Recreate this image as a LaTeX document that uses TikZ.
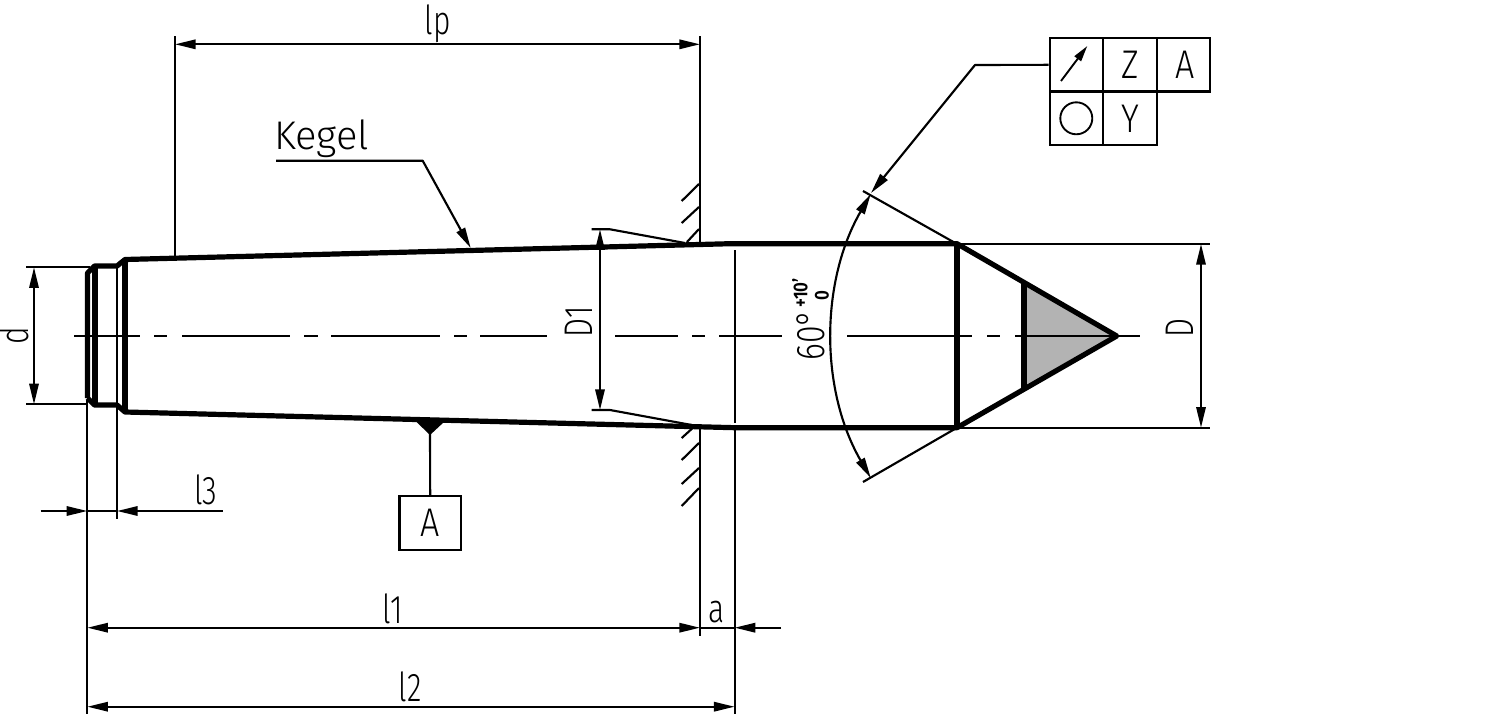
\documentclass[tikz,border=0pt]{standalone}
\usepackage{fontspec}
\usepackage{graphicx}
\setmainfont{Fira Sans Light}
\usetikzlibrary{arrows.meta}
\newcommand{\nrw}[2]{\scalebox{#1}[1]{#2}}
\tikzset{
  thinl/.style={line width=1.6pt,line cap=butt},
  thickl/.style={line width=3.9pt,line join=round},
  dim/.style={thinl,{Triangle[length=15.5pt,width=7pt]}-{Triangle[length=15.5pt,width=7pt]}},
  tipend/.style={thinl,-{Triangle[length=15.5pt,width=7pt]}},
  axisl/.style={line width=1.4pt},
  lbl/.style={inner sep=0pt,outer sep=0pt,font=\fontsize{30}{30}\selectfont},
  cellb/.style={draw,line width=1.7pt,minimum width=40pt,minimum height=40pt,inner sep=0pt,anchor=center,font=\fontsize{30}{30}\selectfont},
}
\begin{document}
\begin{tikzpicture}[x=0.75pt,y=-0.75pt]
\useasboundingbox[fill=white] (0,0) rectangle (1500,718);
% centre line
\foreach \a/\b in {74/140,154/167,182/290,304/317.5,331/440,454/467,480/546.5,615/678,692/705,719/782,847/972,987/1000,1015/1140}
  \draw[axisl] (\a,336) -- (\b,336);
% cone tip
\fill[fill={rgb,255:red,179;green,179;blue,179}] (1024,283) -- (1116.7,336) -- (1024,388) -- cycle;
\draw[axisl] (1024,336) -- (1116,336);
% thick outline
\draw[thickl] (87.5,398) -- (87.5,273) -- (94.5,266) -- (117,266) -- (125,259.5) -- (730,243.7) -- (957,243.7) -- (1116.7,336) -- (957,427.7) -- (735,427.7) -- (125,412) -- (117,405) -- (94.5,405) -- (87.5,398);
\draw[thickl] (95,266) -- (95,405);
\draw[thickl] (125,259.5) -- (125,412);
\draw[thickl] (957,243.7) -- (957,427.7);
\draw[thickl] (1024,283) -- (1024,388);
\draw[line width=2.2pt] (117,266) -- (117,405);
% extension lines
\draw[thinl] (26,267.3) -- (90,267.3);
\draw[thinl] (26,404.3) -- (88,404.3);
\draw[thinl] (87.3,400) -- (87.3,714);
\draw[thinl] (117,405) -- (117,519);
\draw[thinl] (175,36) -- (175,259);
\draw[thinl] (700,36) -- (700,243);
\draw[thinl] (700,428) -- (700,636);
\draw[thinl] (734.6,250) -- (734.6,423);
\draw[thinl] (734.6,430) -- (734.6,714);
\draw[thinl] (957,244) -- (1210,244);
\draw[thinl] (957,427.7) -- (1210,427.7);
\draw[thinl] (957,244) -- (863,191);
\draw[thinl] (957,427.7) -- (863,482);
% hatching
\foreach \p/\q in {{681.7,201}/{699,184},{681.7,223}/{699,207},{687,242}/{699,229},{681.7,438}/{692.7,428},{681.7,460}/{699,443},{681.7,484}/{699,468},{681.7,506}/{699,488}}
  \draw[thinl] (\p) -- (\q);
% D1 leaders
\draw[thinl,line join=round] (591.7,229.3) -- (610,229.3) -- (685,243);
\draw[thinl,line join=round] (591.7,410) -- (610,410) -- (691.7,425);
% dimensions
\draw[dim] (34,267.3) -- (34,404.3);
\draw[dim] (600,229.3) -- (600,410);
\draw[dim] (1201,244) -- (1201,427.7);
\draw[dim] (175,44.3) -- (700,44.3);
\draw[dim] (87.3,627.7) -- (700,627.7);
\draw[dim] (87.3,706.7) -- (734.6,706.7);
\draw[tipend] (40.7,511) -- (87.3,511);
\draw[thinl] (87.3,511) -- (117,511);
\draw[tipend] (222.7,511) -- (117,511);
\draw[thinl] (700,627.7) -- (734.6,627.7);
\draw[tipend] (781,627.7) -- (734.6,627.7);
\draw[dim] (870.75,194) .. controls (820,281.9) and (820,390.1) .. (870.75,478);
% Kegel leader
\draw[tipend,line join=round] (276,160.7) -- (422.7,160.7) -- (470.7,248);
% datum
\fill (415.5,421) -- (444,422) -- (430,435) -- cycle;
\node[draw,line width=1.7pt,minimum width=46pt,minimum height=40.5pt,inner sep=0pt,lbl] (datum) at (430.2,523) {\raisebox{-0.8pt}{\nrw{.85}{A}}};
\draw[thinl] (430,432) -- (datum.north);
% tolerance frame
\node[cellb] (c1) at (1076.3,64.8) {};
\node[cellb] (c2) at (1130,64.8) {\nrw{.85}{Z}};
\node[cellb] (c3) at (1183.3,64.8) {\hspace*{3pt}\nrw{.85}{A}};
\node[cellb] (c4) at (1076.3,118.3) {};
\node[cellb] (c5) at (1130,118.3) {\nrw{.85}{Y}};
\node[circle,draw,line width=1.4pt,minimum size=24pt,inner sep=0pt] (circ) at (c4) {};
\coordinate (arA) at (1061,81);
\coordinate (arB) at (1087.3,46);
\draw[line width=1.4pt,-{Triangle[length=12pt,width=6pt]}] (arA) -- (arB);
\coordinate (bend) at (975,65);
\coordinate (tip) at (871,193);
\draw[tipend,line join=round] (c1.west) -- (bend) -- (tip);
% labels
\node[lbl] (tlp) at (437.5,24) {\nrw{.75}{lp}};
\node[lbl,anchor=base west] (tkegel) at (274,149) {\nrw{1}{Kegel}};
\node[lbl] (tl1) at (393,608.5) {\nrw{.75}{l1}};
\node[lbl] (tl2) at (410,686.5) {\nrw{.75}{l2}};
\node[lbl] (tl3) at (206,490) {\nrw{.75}{l3}};
\node[lbl] (ta) at (717,612) {\nrw{.75}{a}};
\node[lbl,rotate=90] (td) at (14,336) {\nrw{.75}{d}};
\node[lbl,rotate=90] (tD1) at (579,321.5) {\nrw{.75}{D1}};
\node[lbl,rotate=90] (tD) at (1180,328.5) {\nrw{.75}{D}};
\node[lbl,rotate=90] (tang) at (811,335) {\nrw{.8}{60°}};
\node[inner sep=0pt,rotate=90,font=\fontsize{15}{15}\bfseries\selectfont] (ttol) at (800,293) {\nrw{.85}{+10'}};
\node[inner sep=0pt,rotate=90,font=\fontsize{15}{15}\bfseries\selectfont] (tzero) at (822,296) {\nrw{.85}{0}};
\end{tikzpicture}
\end{document}
